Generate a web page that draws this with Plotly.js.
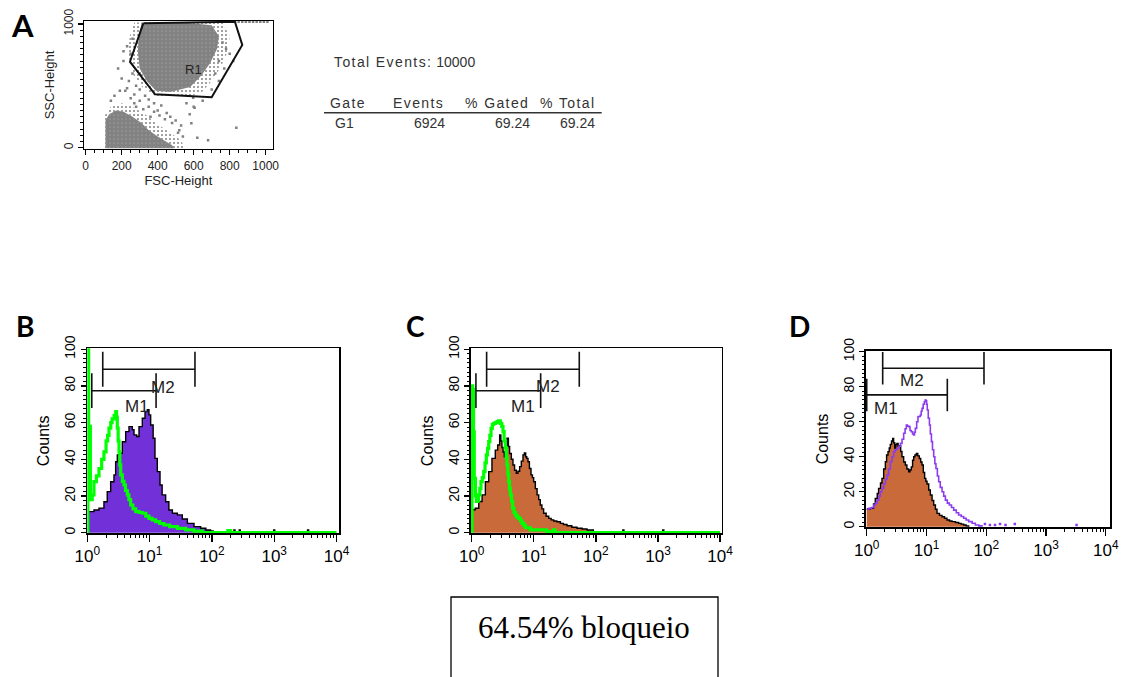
<!DOCTYPE html>
<html>
<head>
<meta charset="utf-8">
<script src="https://cdn.plot.ly/plotly-3.0.1.min.js"></script>
<style>
  html, body { margin: 0; padding: 0; background: #ffffff; }
  #fig { width: 1124px; height: 677px; }
</style>
</head>
<body>
<div id="fig"></div>
<script>
// ---------- Panel A: FSC / SSC dot plot ----------
const gateR1X = [320, 829, 870, 700, 385, 246, 320];
const gateR1Y = [1005, 1018, 830, 407, 432, 695, 1005];

const upperCoreX = [310, 560, 700, 740, 730, 690, 640, 580, 470, 390, 340, 300, 290, 295];
const upperCoreY = [1000, 1010, 990, 900, 800, 680, 580, 490, 450, 460, 540, 640, 780, 900];
const upperHaloX = [270, 760, 800, 790, 750, 700, 640, 520, 400, 320, 260, 235, 245];
const upperHaloY = [1012, 1015, 900, 780, 650, 540, 440, 400, 410, 480, 600, 760, 900];

const lowerCoreX = [110, 110, 130, 170, 210, 260, 310, 350, 400, 450, 480, 490];
const lowerCoreY = [-5, 220, 270, 300, 290, 250, 200, 140, 90, 50, 20, -5];
const lowerHaloX = [105, 105, 140, 200, 260, 330, 400, 470, 530, 550];
const lowerHaloY = [-5, 260, 330, 360, 330, 270, 190, 120, 60, -5];

const sparseX = [230, 250, 210, 180, 260, 240, 200, 280, 300, 270,
                 330, 350, 380, 420, 300, 250, 220, 350, 400, 450,
                 470, 500, 530, 520, 480, 440, 410, 380, 360, 320,
                 280, 513, 578, 587, 597, 605, 837, 760, 780, 740,
                 770, 800, 720, 700, 740, 820, 650, 600, 560, 350,
                 300, 160, 140, 190, 230, 270, 540, 620, 680, 260, 210];
const sparseY = [820, 760, 700, 640, 600, 540, 560, 500, 470, 430,
                 420, 390, 360, 340, 380, 400, 460, 330, 300, 280,
                 250, 220, 180, 140, 200, 230, 260, 290, 250, 310,
                 330, 121, 270, 197, 404, 323, 162, 850, 800, 700,
                 640, 760, 600, 470, 540, 700, 380, 330, 360, 560,
                 600, 420, 380, 460, 480, 360, 90, 80, 60, 880, 780];
const saturatedX = [830, 850, 870, 890, 910, 930, 950, 970, 990, 1010];
const saturatedY = [1018, 1018, 1018, 1018, 1018, 1018, 1018, 1018, 1018, 1018];

// Gate statistics table
const totalEvents = 10000;
const tableHeader = ['Gate', 'Events', '% Gated', '% Total'];
const tableRow = ['G1', '6924', '69.24', '69.24'];

// ---------- Panel B ----------
const bStainX = [1.03, 1.13, 1.28, 1.54, 1.85, 2.09, 2.37, 2.68, 2.85, 3.03,
                 3.3, 3.65, 4.13, 4.67, 5.28, 5.62, 6.2, 6.76, 7.64, 8.44,
                 9.19, 9.77, 10.4, 11.4, 12.2, 13.3, 14.7, 15.9, 18.1, 20.4,
                 23.2, 27.9, 33.5, 40.4, 51.6, 66, 80, 95, 105];
const bStainY = [11.5, 11.5, 12.4, 13.4, 16.9, 22.4, 27.8, 31.5, 38.7, 42.4,
                 43.3, 49.6, 55.1, 57.8, 56.1, 53.3, 52.4, 57.8, 62.4, 66,
                 67, 64.2, 58.7, 51.5, 40.5, 33.3, 26, 20.6, 16.9, 12.4,
                 10.6, 9.7, 7.5, 5.1, 3.3, 2.4, 1.5, 0.9, 0];
const bControlX = [1.02, 1.02, 1.05, 1.12, 1.2, 1.28, 1.4, 1.54, 1.7, 1.85,
                   2.0, 2.12, 2.23, 2.38, 2.5, 2.7, 2.86, 2.95, 3.03, 3.13,
                   3.23, 3.33, 3.44, 3.65, 3.88, 4.1, 4.39, 4.65, 4.97, 5.4,
                   5.98, 6.8, 7.64, 8.7, 9.78, 11, 12.5, 14.5, 17, 21,
                   27.9, 38, 51.6, 70, 165, 180, 200, 10000];
const bControlY = [0, 125, 58, 18, 20.6, 27.8, 31, 35, 40, 44,
                   50, 53, 57, 60, 62, 64, 66, 63, 57, 50,
                   44, 37, 31.5, 28, 26, 23, 20.6, 18, 15.1, 13,
                   11.5, 11, 10.6, 9, 7.8, 7, 6, 5, 4.2, 3.3,
                   2.4, 1.5, 0.9, 0, 0, 1.2, 0, 0];
const bStrayX = [195, 230, 280, 1000, 3500];
const bStrayY = [1.2, 1.2, 1.2, 1.2, 1.2];
const bGateStart = [1.18, 1.77];
const bGateEnd = [12.7, 53.5];
const bGateLevel = [77.4, 89.1];

// ---------- Panel C ----------
const cStainX = [1.05, 1.14, 1.3, 1.47, 1.66, 1.88, 2.12, 2.4, 2.62, 2.82,
                 2.95, 3.07, 3.2, 3.35, 3.5, 3.7, 3.9, 4.08, 4.35, 4.62,
                 4.9, 5.23, 5.55, 5.92, 6.3, 6.7, 7.05, 7.4, 7.7, 8.07,
                 8.5, 9.02, 9.5, 9.95, 10.6, 11.3, 12, 12.7, 13.5, 14.4,
                 15.8, 17.4, 19, 20.9, 23.5, 26.8, 30, 34.3, 41, 49.6,
                 60, 72, 91, 100];
const cStainY = [12.5, 13.3, 17, 20.6, 27.8, 33.3, 40.5, 45, 47.8, 53.3,
                 50, 46.4, 44, 41.4, 47, 51.5, 47, 43.2, 40, 36.9,
                 34, 32.4, 33.5, 36, 39, 42.4, 43.5, 41.4, 40.5, 38.7,
                 35, 31.5, 30, 27.8, 24, 20.6, 18, 15.1, 13, 10.6,
                 9, 7.8, 7, 6.4, 6, 5.1, 4.5, 3.8, 3, 2.4,
                 2, 1.5, 0.6, 0];
const cControlX = [1.01, 1.01, 1.04, 1.07, 1.1, 1.15, 1.19, 1.24, 1.29, 1.35,
                   1.41, 1.48, 1.56, 1.64, 1.72, 1.8, 1.88, 1.96, 2.05, 2.15,
                   2.26, 2.4, 2.56, 2.72, 2.89, 3.05, 3.19, 3.33, 3.48, 3.6,
                   3.7, 3.82, 3.94, 4.06, 4.19, 4.38, 4.57, 4.8, 5.05, 5.35,
                   5.71, 6.1, 6.46, 6.9, 7.31, 8.8, 12.7, 16, 18.5, 20.5,
                   22, 10000];
const cControlY = [0, 80, 78, 55, 29.6, 20, 17, 17.5, 20.6, 24,
                   27.8, 30, 33.3, 38, 42.4, 46, 49.6, 53, 56.9, 59,
                   59.6, 60, 60.5, 61, 59.6, 58, 55.1, 50, 46.4, 41,
                   36.9, 32, 27.8, 24, 20.6, 17, 13.3, 11, 9.6, 8.5,
                   7.8, 6.5, 5.1, 4, 2.7, 1.5, 1.5, 0.6, 0, 1.5,
                   0, 0];
const cStrayX = [277, 1217];
const cStrayY = [1.2, 1.2];
const cGateStart = [1.17, 1.74];
const cGateEnd = [12.9, 54];
const cGateLevel = [77.4, 89.1];

// ---------- Panel D ----------
const dBlockedX = [1.0, 1.15, 1.3, 1.39, 1.5, 1.58, 1.7, 1.8, 1.92, 2.05,
                   2.15, 2.27, 2.38, 2.48, 2.6, 2.72, 2.82, 2.94, 3.07, 3.21,
                   3.35, 3.52, 3.7, 3.89, 4.15, 4.43, 4.7, 5.03, 5.3, 5.57,
                   5.85, 6.1, 6.4, 6.76, 7.15, 7.59, 8.0, 8.41, 8.85, 9.31,
                   9.75, 10.2, 10.9, 11.6, 12.4, 13.2, 14.1, 15, 16.5, 18.2,
                   20, 22, 24.3, 26.7, 30.5, 34.5, 38, 41.9, 46, 50.8];
const dBlockedY = [10.1, 10.5, 13, 16.2, 19, 21.9, 25, 27.6, 33, 37.1,
                   41, 42.9, 45, 47, 49, 50.5, 48, 45, 47, 47.6,
                   46, 46.3, 43, 40, 37, 35.3, 33, 31.4, 32.5, 34.2,
                   38, 40, 41, 41.9, 40.5, 39, 37, 35.3, 31, 27.6,
                   26, 24.4, 21, 18.1, 15, 12.4, 10, 7.6, 6.5, 5.7,
                   4.8, 3.8, 3.3, 2.9, 2.4, 1.9, 1.5, 1, 0.5, 0];
const dStainX = [1.02, 1.08, 1.2, 1.31, 1.4, 1.49, 1.6, 1.69, 1.8, 1.92,
                 2.05, 2.18, 2.33, 2.48, 2.65, 2.82, 3.0, 3.21, 3.43, 3.66,
                 3.9, 4.15, 4.38, 4.6, 4.8, 5.03, 5.3, 5.57, 5.85, 6.1,
                 6.3, 6.5, 6.85, 7.2, 7.5, 7.88, 8.15, 8.41, 8.8, 9.2,
                 9.5, 9.82, 10.05, 10.3, 10.7, 11.2, 11.6, 12.1, 12.6, 13.2,
                 13.8, 14.4, 15.2, 16, 17, 18.2, 19.4, 20.7, 22.3, 24.1,
                 26.2, 28.5, 31.5, 34.5, 38, 41.9, 46, 50.8, 58, 65.6,
                 75, 84.7];
const dStainY = [10, 10.5, 11, 12.4, 13.5, 15.2, 17.5, 20, 22, 24.4,
                 27, 29.5, 33, 37.1, 40, 42.9, 44, 44.8, 46, 47.6,
                 50, 53.4, 56, 58.1, 57.5, 57.2, 55, 54.3, 53, 52.4,
                 54, 56.2, 60, 62.9, 63, 63.8, 66, 67.6, 70, 71.4,
                 72.4, 72, 70, 66.7, 62, 58.1, 53, 48.6, 44, 40,
                 36, 33.3, 29, 25.7, 22.5, 20, 17.5, 15.2, 13.5, 12.4,
                 11, 9.5, 8, 6.7, 5.8, 4.8, 3.8, 2.9, 2, 1,
                 0.5, 0];
const dStrayX = [95, 115, 140, 170, 210, 300, 3240];
const dStrayY = [1.5, 1, 1, 1.5, 1, 1.5, 1];
const dGateStart = [1.0, 1.85];
const dGateEnd = [22.3, 91.6];
const dGateLevel = [75.3, 90.5];

const gateNames = ['M1', 'M2'];
const blockingPercent = 64.54;

// ---------- helpers ----------
const W = 1124, H = 677;
const px = v => v / W;
const py = v => 1 - v / H;

const INK = '#000000';
const GREEN = '#00ff00';
const VIOLET = '#7230d8';
const VIOLET_LINE = '#8c3cf0';
const RUST = '#c96a3a';
const DOTS = '#7f7f7f';

function gateBars(starts, ends, levels, xa, ya, half) {
  const x = [], y = [];
  for (let i = 0; i < starts.length; i++) {
    x.push(starts[i], ends[i], null, starts[i], starts[i], null, ends[i], ends[i], null);
    y.push(levels[i], levels[i], null, levels[i] - half, levels[i] + half, null,
           levels[i] - half, levels[i] + half, null);
  }
  return {x, y, xaxis: xa, yaxis: ya, mode: 'lines', type: 'scatter',
          line: {color: '#111', width: 1.6}, hoverinfo: 'skip'};
}

function stepArea(x, y, xa, ya, fill) {
  return {x, y, xaxis: xa, yaxis: ya, type: 'scatter', mode: 'lines',
          line: {shape: 'hv', color: INK, width: 1.4}, fill: 'tozeroy', fillcolor: fill,
          hoverinfo: 'skip'};
}

function stepLine(x, y, xa, ya, color, width) {
  return {x, y, xaxis: xa, yaxis: ya, type: 'scatter', mode: 'lines',
          line: {shape: 'hv', color, width}, hoverinfo: 'skip'};
}

function strayDots(x, y, xa, ya, color) {
  return {x, y, xaxis: xa, yaxis: ya, type: 'scatter', mode: 'markers',
          marker: {color, size: 2.5, symbol: 'square'}, hoverinfo: 'skip'};
}

function region(x, y, pattern, solid) {
  return {x, y, xaxis: 'x', yaxis: 'y', type: 'scatter', mode: 'lines', fill: 'toself',
          line: {width: 0}, fillcolor: solid, fillpattern: pattern, hoverinfo: 'skip'};
}

// ---------- traces ----------
const haloPattern = {shape: '.', fgcolor: '#8a8a8a', bgcolor: 'rgba(255,255,255,0)', size: 4, solidity: 0.22, fillmode: 'replace'};
const corePattern = {shape: '.', fgcolor: '#b8b8b8', bgcolor: '#828282', size: 4, solidity: 0.06, fillmode: 'replace'};

const traces = [
  region(upperHaloX, upperHaloY, haloPattern, 'rgba(0,0,0,0)'),
  region(lowerHaloX, lowerHaloY, haloPattern, 'rgba(0,0,0,0)'),
  region(upperCoreX, upperCoreY, corePattern, DOTS),
  region(lowerCoreX, lowerCoreY, corePattern, DOTS),
  {x: sparseX, y: sparseY, xaxis: 'x', yaxis: 'y', type: 'scatter', mode: 'markers',
   marker: {color: DOTS, size: 2.5, symbol: 'square'}, hoverinfo: 'skip'},
  {x: saturatedX, y: saturatedY, xaxis: 'x', yaxis: 'y', type: 'scatter', mode: 'markers',
   marker: {color: DOTS, size: 2.5, symbol: 'square'}, hoverinfo: 'skip'},
  {x: gateR1X, y: gateR1Y, xaxis: 'x', yaxis: 'y', type: 'scatter', mode: 'lines',
   line: {color: '#111', width: 2}, hoverinfo: 'skip'},

  stepArea(bStainX, bStainY, 'x2', 'y2', VIOLET),
  strayDots(bStrayX, bStrayY, 'x2', 'y2', INK),
  stepLine(bControlX, bControlY, 'x2', 'y2', GREEN, 3.2),
  gateBars(bGateStart, bGateEnd, bGateLevel, 'x2', 'y2', 9.5),

  stepArea(cStainX, cStainY, 'x3', 'y3', RUST),
  strayDots(cStrayX, cStrayY, 'x3', 'y3', INK),
  stepLine(cControlX, cControlY, 'x3', 'y3', GREEN, 3.2),
  gateBars(cGateStart, cGateEnd, cGateLevel, 'x3', 'y3', 9.5),

  stepArea(dBlockedX, dBlockedY, 'x4', 'y4', RUST),
  stepLine(dStainX, dStainY, 'x4', 'y4', VIOLET_LINE, 1.6),
  strayDots(dStrayX, dStrayY, 'x4', 'y4', VIOLET_LINE),
  gateBars(dGateStart, dGateEnd, dGateLevel, 'x4', 'y4', 9.3)
];

// ---------- axes ----------
const SANS = 'Liberation Sans, Arial, sans-serif';
const decadeVals = [1, 10, 100, 1000, 10000];
const decadeText = decadeVals.map((v, i) => '10<sup>' + i + '</sup>');
const minorLog = [];
for (let d = 0; d < 4; d++) for (let k = 2; k <= 9; k++) minorLog.push(k * Math.pow(10, d));

function frame() {
  return {showline: true, mirror: true, linecolor: INK, linewidth: 1.6,
          showgrid: false, zeroline: false, fixedrange: true, automargin: false};
}

function logAxis(domain, range, anchor) {
  return Object.assign(frame(), {
    domain, range, type: 'log', anchor,
    tickmode: 'array', tickvals: decadeVals, ticktext: decadeText,
    ticks: 'outside', ticklen: 7, tickwidth: 1.3, tickcolor: INK,
    minor: {tickmode: 'array', tickvals: minorLog, ticks: 'outside', ticklen: 3.5, tickwidth: 1, tickcolor: INK},
    tickfont: {family: SANS, size: 17, color: INK}
  });
}

function countAxis(domain, range, anchor) {
  return Object.assign(frame(), {
    domain, range, anchor,
    tickmode: 'array', tickvals: [0, 20, 40, 60, 80, 100], tickangle: -90,
    ticks: 'outside', ticklen: 5, tickwidth: 1.3, tickcolor: INK,
    minor: {dtick: 2.5, tick0: 0, ticks: 'outside', ticklen: 2.5, tickwidth: 1, tickcolor: INK},
    tickfont: {family: SANS, size: 14, color: INK},
    title: {text: 'Counts', font: {family: SANS, size: 16, color: INK}, standoff: 8}
  });
}

const layout = {
  width: W, height: H,
  margin: {l: 0, r: 0, t: 0, b: 0},
  paper_bgcolor: '#ffffff', plot_bgcolor: '#ffffff',
  showlegend: false,
  xaxis: Object.assign(frame(), {
    domain: [px(84), px(272.7)], range: [-9.4, 1039], anchor: 'y', linewidth: 1.3,
    tickmode: 'array', tickvals: [0, 200, 400, 600, 800, 1000],
    ticks: 'outside', ticklen: 5, tickwidth: 1.2, tickcolor: INK,
    minor: {dtick: 50, tick0: 0, ticks: 'outside', ticklen: 3, tickwidth: 1, tickcolor: INK},
    tickfont: {family: SANS, size: 12, color: '#222'},
    title: {text: 'FSC-Height', font: {family: SANS, size: 13, color: '#222'}, standoff: 0}
  }),
  yaxis: Object.assign(frame(), {
    domain: [py(149), py(21)], range: [-10.6, 1024], anchor: 'x', linewidth: 1.3,
    tickmode: 'array', tickvals: [0, 1000], tickangle: -90,
    ticks: 'outside', ticklen: 5, tickwidth: 1.2, tickcolor: INK,
    minor: {dtick: 50, tick0: 0, ticks: 'outside', ticklen: 3, tickwidth: 1, tickcolor: INK},
    tickfont: {family: SANS, size: 12, color: '#222'},
    title: {text: 'SSC-Height', font: {family: SANS, size: 13, color: '#222'}, standoff: 4}
  }),
  xaxis2: logAxis([px(87.3), px(339.3)], [0, 4.045], 'y2'),
  yaxis2: countAxis([py(533.3), py(348.3)], [-0.33, 100.5], 'x2'),
  xaxis3: logAxis([px(470.7), px(721.7)], [-0.016, 4.026], 'y3'),
  yaxis3: countAxis([py(533.3), py(348.3)], [-0.33, 100.5], 'x3'),
  xaxis4: logAxis([px(865.7), px(1110)], [-0.017, 4.07], 'y4'),
  yaxis4: countAxis([py(527.3), py(350.7)], [-0.34, 100.57], 'x4'),
  shapes: [
    {type: 'line', xref: 'paper', yref: 'paper', x0: px(324), x1: px(601.7), y0: py(112.7), y1: py(112.7),
     line: {color: '#333', width: 1.4}},
    {type: 'rect', xref: 'paper', yref: 'paper', x0: px(451), x1: px(718), y0: py(720), y1: py(597),
     line: {color: INK, width: 1.3}, fillcolor: 'rgba(0,0,0,0)'}
  ],
  annotations: []
};

const ann = layout.annotations;
const LETTER = {family: 'Lato, Liberation Sans, sans-serif', size: 27, color: INK, weight: 700};
[['A', 22, 25, 31], ['B', 25, 326, 28], ['C', 415, 326, 28], ['D', 799, 326, 28]].forEach(([t, x, y, s]) => {
  ann.push({text: t, xref: 'paper', yref: 'paper', x: px(x), y: py(y), xanchor: 'center', yanchor: 'middle',
            showarrow: false, font: Object.assign({}, LETTER, {size: s})});
});

// gate label inside the dot plot
ann.push({text: 'R1', xref: 'x', yref: 'y', x: 598, y: 628, showarrow: false,
          font: {family: SANS, size: 13, color: '#222'}});

// statistics table
const TAB = {family: SANS, size: 14, color: '#333'};
const spaced = s => '<span style="letter-spacing:1.4px">' + s + '</span>';
ann.push({text: spaced('Total Events:') + ' ' + totalEvents, xref: 'paper', yref: 'paper',
          x: px(331.5), y: py(61.7), xanchor: 'left', yanchor: 'middle', showarrow: false, font: TAB});
[348, 418, 497, 567].forEach((cx, i) => {
  ann.push({text: spaced(tableHeader[i]), xref: 'paper', yref: 'paper', x: px(cx), y: py(102.7),
            xanchor: 'center', yanchor: 'middle', showarrow: false, font: TAB});
});
[[344, 'center'], [446.7, 'right'], [531.7, 'right'], [596.7, 'right']].forEach(([cx, anchor], i) => {
  ann.push({text: tableRow[i], xref: 'paper', yref: 'paper', x: px(cx), y: py(123.3),
            xanchor: anchor, yanchor: 'middle', showarrow: false, font: TAB});
});

// histogram marker labels
const MFONT = {family: SANS, size: 17, color: '#222'};
[['x2', 'y2', [6.2, 68.7], [16.6, 79.3]],
 ['x3', 'y3', [6.8, 68.7], [17.1, 79.6]],
 ['x4', 'y4', [2.1, 67.7], [5.65, 83.8]]].forEach(([xa, ya, m1, m2]) => {
  [m1, m2].forEach((p, i) => {
    ann.push({text: gateNames[i], xref: xa, yref: ya, x: Math.log10(p[0]), y: p[1],
              xanchor: 'center', yanchor: 'middle', showarrow: false, font: MFONT});
  });
});

// blocking result box
ann.push({text: blockingPercent.toFixed(2) + '% bloqueio', xref: 'paper', yref: 'paper',
          x: px(584), y: py(627), xanchor: 'center', yanchor: 'middle', showarrow: false,
          font: {family: 'Liberation Serif, Times New Roman, serif', size: 31, color: INK}});

Plotly.newPlot('fig', traces, layout, {staticPlot: true, displayModeBar: false});
</script>
</body>
</html>
